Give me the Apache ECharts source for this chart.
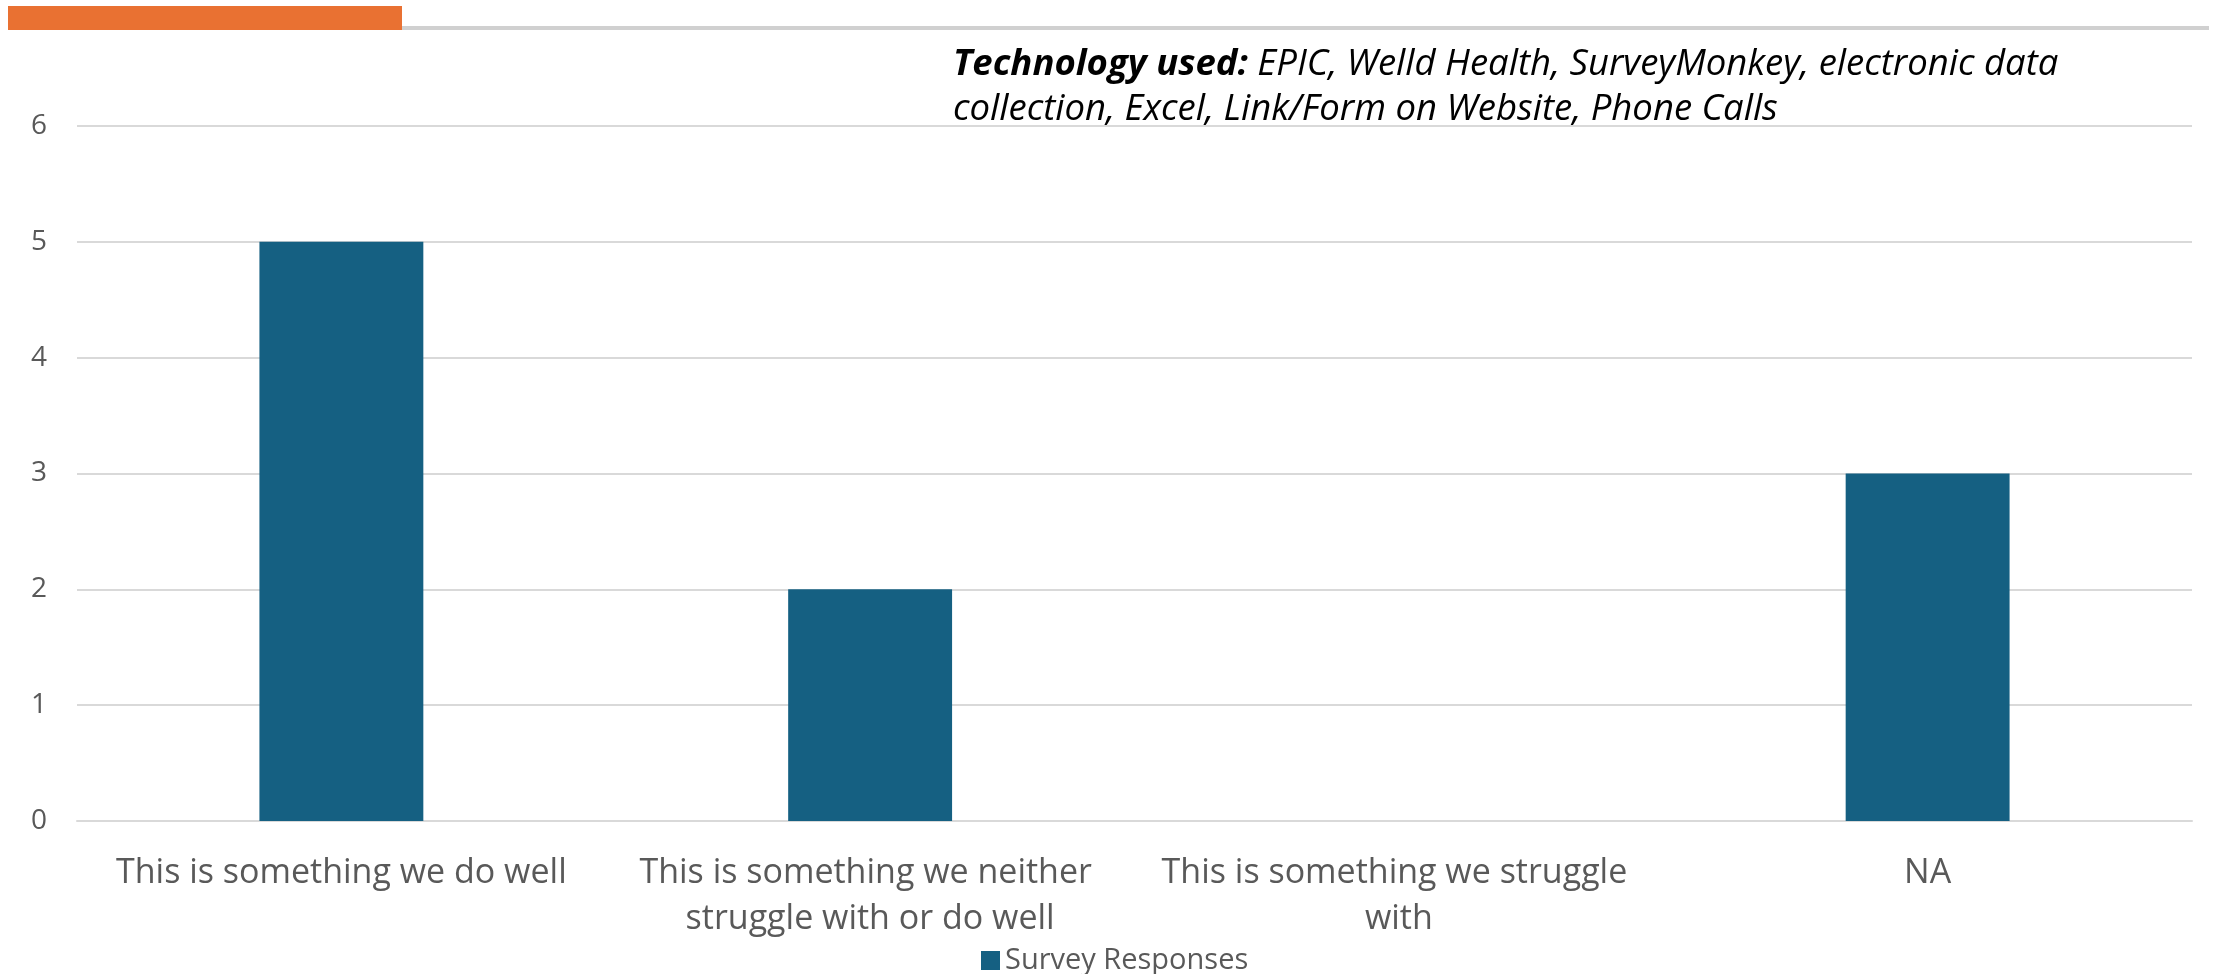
<!DOCTYPE html>
<html>
<head>
<meta charset="utf-8">
<script src="https://cdn.jsdelivr.net/npm/echarts@6/dist/echarts.min.js"></script>
<style>
html,body{margin:0;padding:0;background:#fff;}
#c{width:2213px;height:974px;}
</style>
</head>
<body>
<div id="c"></div>
<script>
const categories = [
  'This is something we do well',
  'This is something we neither struggle with or do well',
  'This is something we struggle with',
  'NA'
];
const surveyResponses = [5, 2, 0, 3];
const yTicks = [0, 1, 2, 3, 4, 5, 6];
const seriesName = 'Survey Responses';
const noteBold = 'Technology used:';
const noteLine1 = 'EPIC, Welld Health, SurveyMonkey, electronic data';
const noteLine2 = 'collection, Excel, Link/Form on Website, Phone Calls';

const FONT = 'Open Sans';
const chart = echarts.init(document.getElementById('c'), null, {renderer: 'canvas'});
chart.setOption({
  animation: false,
  backgroundColor: '#ffffff',
  textStyle: {fontFamily: FONT},
  grid: {left: 77, right: 21, top: 126, bottom: 153, containLabel: false},
  legend: {
    data: [seriesName],
    left: 976, top: 941,
    itemWidth: 19, itemHeight: 19, itemGap: 9,
    icon: 'rect',
    textStyle: {fontFamily: FONT, fontSize: 29, color: '#595959'}
  },
  xAxis: {
    type: 'category',
    data: categories,
    axisLine: {show: true, lineStyle: {color: '#d9d9d9', width: 2}},
    axisTick: {show: false},
    axisLabel: {
      interval: 0,
      color: '#595959',
      fontFamily: FONT,
      fontSize: 34,
      lineHeight: 46,
      margin: 29,
      width: 500,
      overflow: 'break'
    }
  },
  yAxis: {
    type: 'value',
    min: yTicks[0],
    max: yTicks[yTicks.length - 1],
    interval: 1,
    axisLine: {show: false},
    axisTick: {show: false},
    splitLine: {lineStyle: {color: '#d9d9d9', width: 2}},
    axisLabel: {color: '#595959', fontFamily: FONT, fontSize: 28, margin: 30}
  },
  series: [{
    name: seriesName,
    type: 'bar',
    data: surveyResponses,
    barWidth: '31%',
    itemStyle: {color: '#156082'}
  }],
  graphic: [
    {type: 'rect', left: 14, top: 26, shape: {width: 2195, height: 4}, style: {fill: '#d0d0d0'}, z: 10},
    {type: 'rect', left: 8, top: 6, shape: {width: 394, height: 24}, style: {fill: '#E97132'}, z: 11},
    {
      type: 'text', left: 953, top: 42, z: 12,
      style: {
        text: '{b|' + noteBold + '} {i|' + noteLine1 + '}\n{i|' + noteLine2 + '}',
        fontFamily: FONT,
        fontSize: 36.5,
        lineHeight: 45,
        fill: '#000',
        rich: {
          b: {fontWeight: 'bold', fontStyle: 'italic', fontSize: 36.5, fontFamily: FONT, lineHeight: 45, fill: '#000'},
          i: {fontStyle: 'italic', fontSize: 36.5, fontFamily: FONT, lineHeight: 45, fill: '#000'}
        }
      }
    }
  ]
});
</script>
</body>
</html>
